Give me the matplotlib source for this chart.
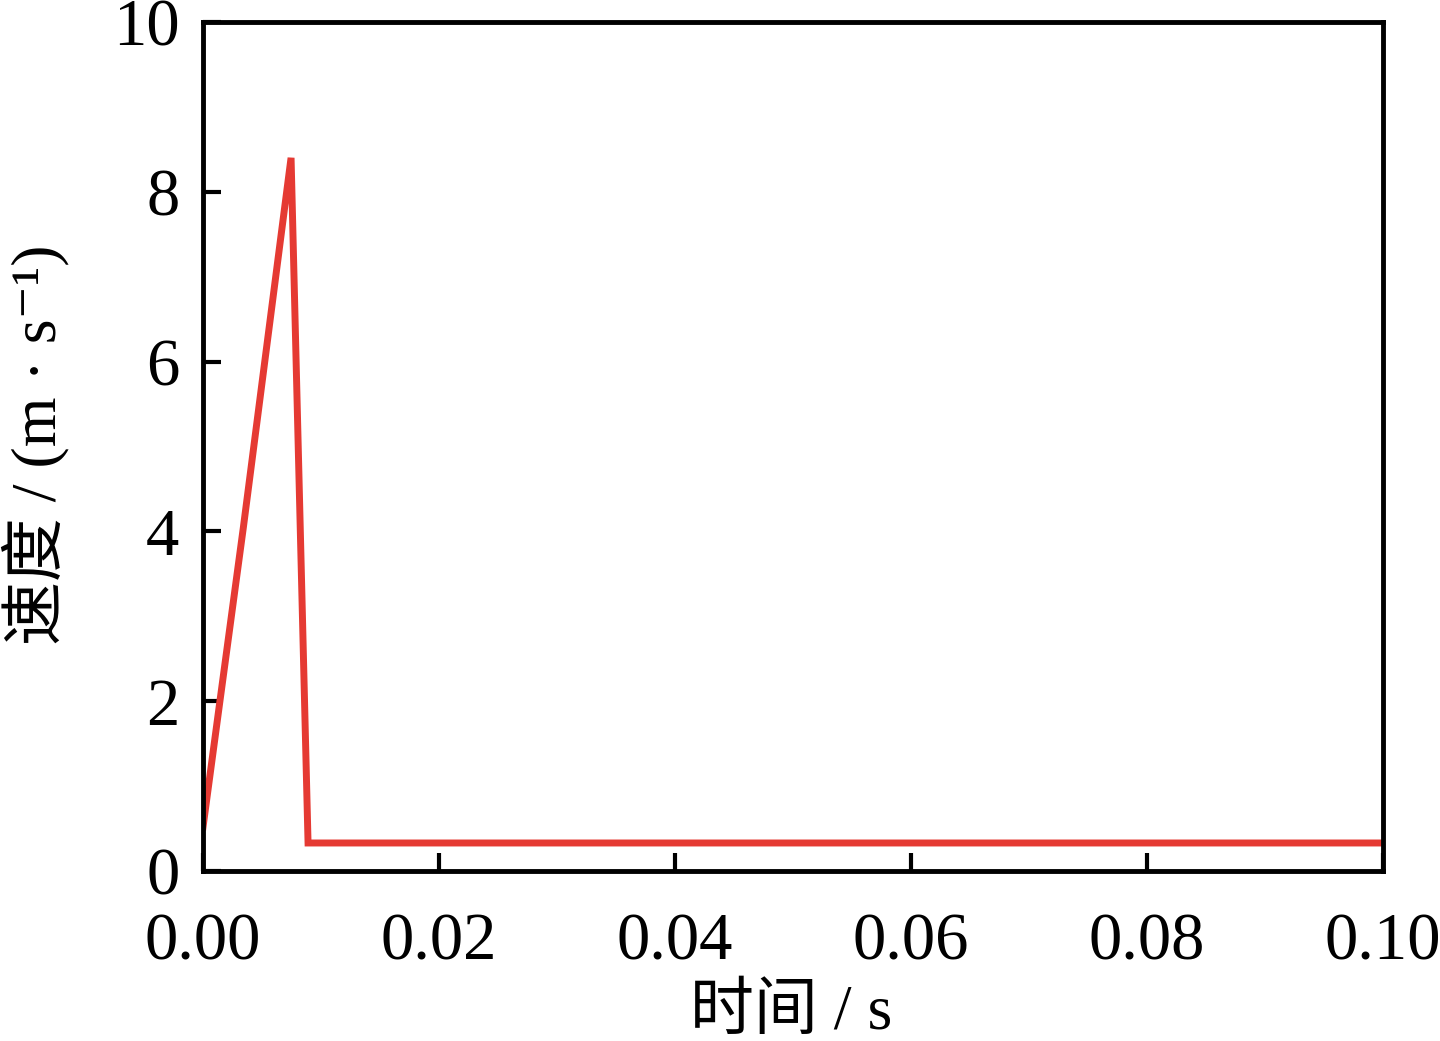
import matplotlib
matplotlib.use('Agg')
import matplotlib.pyplot as plt

# velocity curve
time_s = [0.0, 0.00143, 0.00342, 0.00746, 0.0089, 0.1]
speed = [0.52, 2.0, 4.05, 8.4, 0.33, 0.33]

x_ticks = [0.00, 0.02, 0.04, 0.06, 0.08, 0.10]
y_ticks = [0, 2, 4, 6, 8, 10]

plt.rcParams['font.family'] = ['Liberation Serif', 'Noto Sans CJK SC', 'DejaVu Serif']

fig = plt.figure(figsize=(14.4, 10.41), dpi=100)
ax = fig.add_axes([0.141, 0.1633, 0.8194, 0.8156])

ax.plot(time_s, speed, color='#e53a33', linewidth=5, solid_joinstyle='miter')

ax.set_xlim(0, 0.1)
ax.set_ylim(0, 10)
ax.set_xticks(x_ticks)
ax.set_xticklabels([f'{v:.2f}' for v in x_ticks])
ax.set_yticks(y_ticks)

for s in ax.spines.values():
    s.set_linewidth(3.5)
ax.tick_params(direction='in', length=13, width=3, labelsize=48)
ax.tick_params(axis='y', pad=17)
ax.tick_params(axis='x', pad=30)

ax.set_xlabel('时间 / s', fontsize=46)
ax.set_ylabel('速度 / (m · s⁻¹)', fontsize=46)
ax.xaxis.set_label_coords(0.498, -0.134)
ax.yaxis.set_label_coords(-0.113, 0.502)

fig.savefig('out.png', dpi=100)
